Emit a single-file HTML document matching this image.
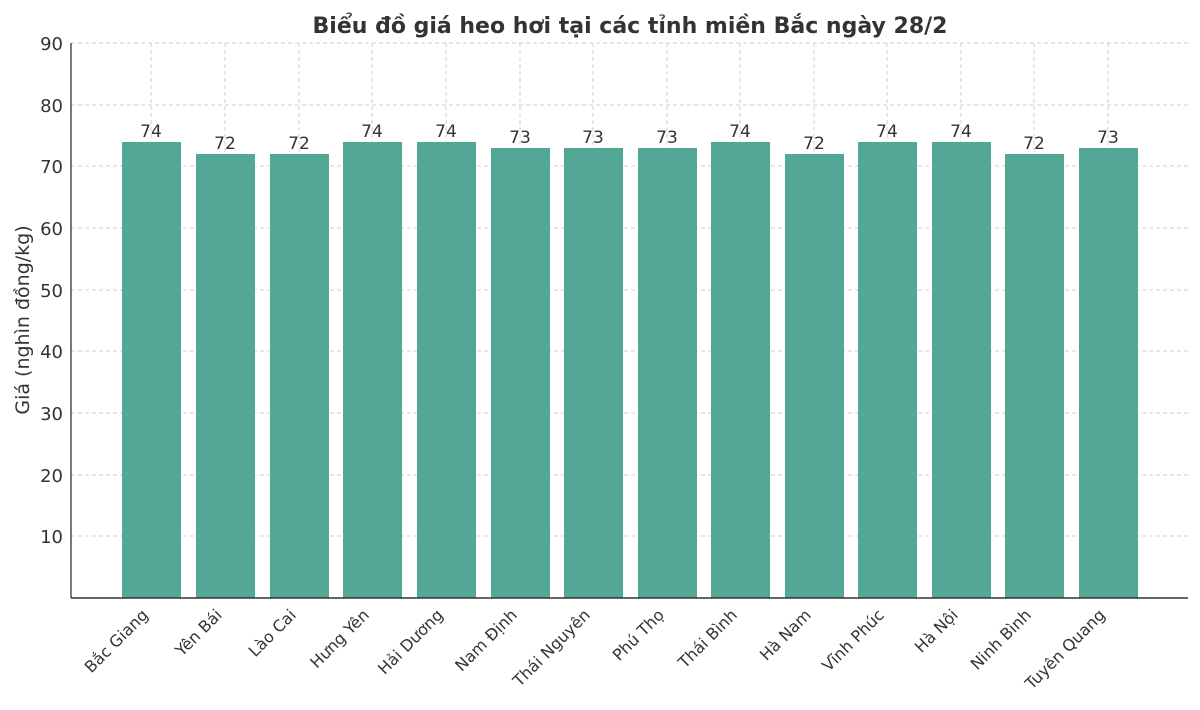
<!DOCTYPE html>
<html><head><meta charset="utf-8"><style>body{margin:0;background:#fff}</style></head><body>
<svg width="1200" height="705" xmlns="http://www.w3.org/2000/svg" font-family="DejaVu Sans, Liberation Sans, sans-serif">
<rect width="1200" height="705" fill="#fff"/>
<g stroke="#cfcfcf" stroke-dasharray="4,3" stroke-width="1">
<line x1="71" x2="1188" y1="43" y2="43"/><line x1="71" x2="1188" y1="105" y2="105"/><line x1="71" x2="1188" y1="166" y2="166"/><line x1="71" x2="1188" y1="228" y2="228"/><line x1="71" x2="1188" y1="290" y2="290"/><line x1="71" x2="1188" y1="351" y2="351"/><line x1="71" x2="1188" y1="413" y2="413"/><line x1="71" x2="1188" y1="475" y2="475"/><line x1="71" x2="1188" y1="536" y2="536"/>
<line y1="43" y2="598" x1="151" x2="151"/><line y1="43" y2="598" x1="225" x2="225"/><line y1="43" y2="598" x1="299" x2="299"/><line y1="43" y2="598" x1="372" x2="372"/><line y1="43" y2="598" x1="446" x2="446"/><line y1="43" y2="598" x1="520" x2="520"/><line y1="43" y2="598" x1="593" x2="593"/><line y1="43" y2="598" x1="667" x2="667"/><line y1="43" y2="598" x1="740" x2="740"/><line y1="43" y2="598" x1="814" x2="814"/><line y1="43" y2="598" x1="887" x2="887"/><line y1="43" y2="598" x1="961" x2="961"/><line y1="43" y2="598" x1="1034" x2="1034"/><line y1="43" y2="598" x1="1108" x2="1108"/>
</g>
<g fill="#52a894">
<rect x="122" y="142" width="59" height="456"/><rect x="196" y="154" width="59" height="444"/><rect x="270" y="154" width="59" height="444"/><rect x="343" y="142" width="59" height="456"/><rect x="417" y="142" width="59" height="456"/><rect x="491" y="148" width="59" height="450"/><rect x="564" y="148" width="59" height="450"/><rect x="638" y="148" width="59" height="450"/><rect x="711" y="142" width="59" height="456"/><rect x="785" y="154" width="59" height="444"/><rect x="858" y="142" width="59" height="456"/><rect x="932" y="142" width="59" height="456"/><rect x="1005" y="154" width="59" height="444"/><rect x="1079" y="148" width="59" height="450"/>
</g>
<g font-size="17" fill="#333" text-anchor="middle">
<text x="151" y="137">74</text><text x="225" y="149">72</text><text x="299" y="149">72</text><text x="372" y="137">74</text><text x="446" y="137">74</text><text x="520" y="143">73</text><text x="593" y="143">73</text><text x="667" y="143">73</text><text x="740" y="137">74</text><text x="814" y="149">72</text><text x="887" y="137">74</text><text x="961" y="137">74</text><text x="1034" y="149">72</text><text x="1108" y="143">73</text>
</g>
<line x1="71" x2="71" y1="43" y2="598" stroke="#333" stroke-width="1.3"/>
<line x1="71" x2="1188" y1="598" y2="598" stroke="#333" stroke-width="1.5"/>
<g font-size="18" fill="#333" text-anchor="end">
<text x="63" y="50">90</text><text x="63" y="112">80</text><text x="63" y="173">70</text><text x="63" y="235">60</text><text x="63" y="297">50</text><text x="63" y="358">40</text><text x="63" y="420">30</text><text x="63" y="482">20</text><text x="63" y="543">10</text>
</g>
<text transform="translate(29,320) rotate(-90)" font-size="19" fill="#333" text-anchor="middle">Giá (nghìn đồng/kg)</text>
<text x="630" y="33" font-size="22" font-weight="bold" fill="#333" text-anchor="middle">Biểu đồ giá heo hơi tại các tỉnh miền Bắc ngày 28/2</text>
<g font-size="16" fill="#333" text-anchor="end">
<text transform="translate(149,616) rotate(-45)">Bắc Giang</text>
<text transform="translate(223,616) rotate(-45)">Yên Bái</text>
<text transform="translate(297,616) rotate(-45)">Lào Cai</text>
<text transform="translate(370,616) rotate(-45)">Hưng Yên</text>
<text transform="translate(444,616) rotate(-45)">Hải Dương</text>
<text transform="translate(518,616) rotate(-45)">Nam Định</text>
<text transform="translate(591,616) rotate(-45)">Thái Nguyên</text>
<text transform="translate(665,616) rotate(-45)">Phú Thọ</text>
<text transform="translate(738,616) rotate(-45)">Thái Bình</text>
<text transform="translate(812,616) rotate(-45)">Hà Nam</text>
<text transform="translate(885,616) rotate(-45)">Vĩnh Phúc</text>
<text transform="translate(959,616) rotate(-45)">Hà Nội</text>
<text transform="translate(1032,616) rotate(-45)">Ninh Bình</text>
<text transform="translate(1106,616) rotate(-45)">Tuyên Quang</text>
</g>
</svg>
</body></html>
